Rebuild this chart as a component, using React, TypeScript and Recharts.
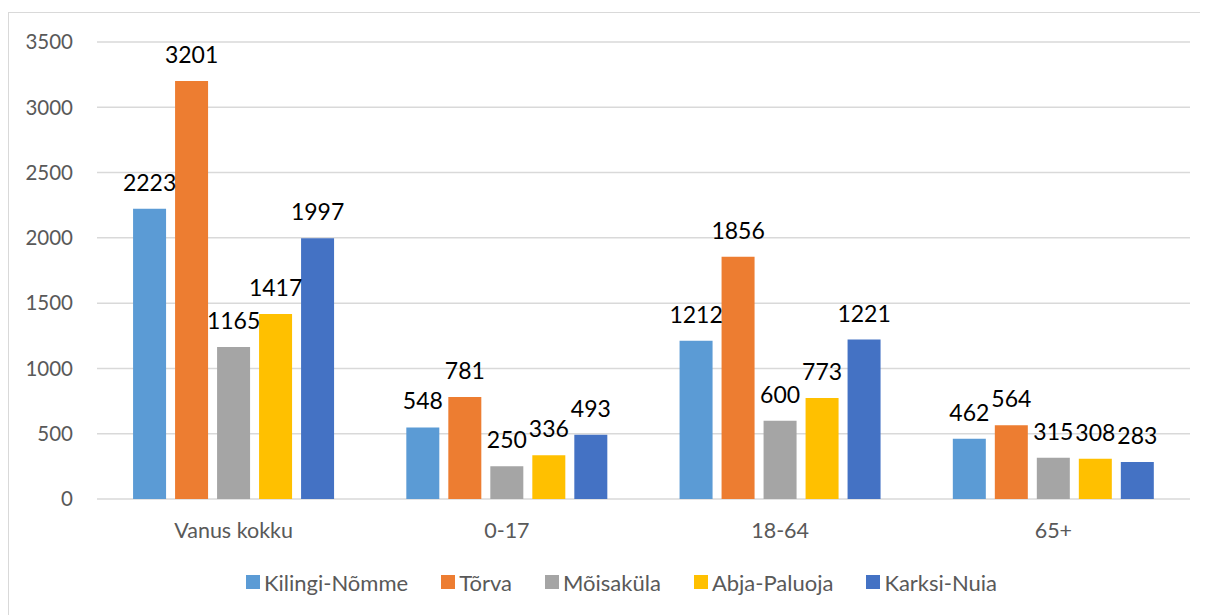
import React from 'react';
import { BarChart, Bar, XAxis, YAxis, CartesianGrid, Legend, LabelList } from 'recharts';

const categories = ['Vanus kokku', '0-17', '18-64', '65+'];
const kilingiNomme = [2223, 548, 1212, 462];
const torva = [3201, 781, 1856, 564];
const moisakula = [1165, 250, 600, 315];
const abjaPaluoja = [1417, 336, 773, 308];
const karksiNuia = [1997, 493, 1221, 283];
const yTicks = [0, 500, 1000, 1500, 2000, 2500, 3000, 3500];

const series = [
  { key: 'Kilingi-Nõmme', values: kilingiNomme, color: '#5B9BD5' },
  { key: 'Tõrva', values: torva, color: '#ED7D31' },
  { key: 'Mõisaküla', values: moisakula, color: '#A5A5A5' },
  { key: 'Abja-Paluoja', values: abjaPaluoja, color: '#FFC000' },
  { key: 'Karksi-Nuia', values: karksiNuia, color: '#4472C4' },
];

const data = categories.map((c, i) => {
  const row: Record<string, string | number> = { name: c };
  series.forEach((s) => {
    row[s.key] = s.values[i];
  });
  return row;
});

const FONT = 'Lato, "Open Sans", sans-serif';

const renderLegend = () => (
  <div style={{ display: 'flex', justifyContent: 'center', alignItems: 'center', height: 40, paddingLeft: 44 }}>
    {series.map((s, i) => (
      <div key={s.key} style={{ display: 'flex', alignItems: 'center', marginRight: i < series.length - 1 ? 33 : 0 }}>
        <span style={{ display: 'inline-block', width: 14, height: 14, background: s.color, marginRight: 4 }} />
        <span style={{ fontFamily: FONT, fontSize: 22, color: '#595959' }}>{s.key}</span>
      </div>
    ))}
  </div>
);

export default function App() {
  return (
    <div
      style={{
        position: 'relative',
        marginTop: 4,
        width: 1199,
        height: 602,
        borderTop: '1px solid #d9d9d9',
        borderLeft: '1px solid #d9d9d9',
        background: '#fff',
      }}
    >
      <BarChart
        width={1199}
        height={602}
        data={data}
        margin={{ top: 29, right: 18, bottom: 13, left: 0 }}
        barCategoryGap="13.2%"
        barGap={9}
      >
        <CartesianGrid vertical={false} stroke="#d9d9d9" strokeWidth={1.5} />
        <XAxis
          dataKey="name"
          axisLine={false}
          tickLine={false}
          tickSize={6}
          tickMargin={18}
          height={63}
          tick={{ fill: '#595959', fontSize: 21.5, fontFamily: FONT }}
        />
        <YAxis
          domain={[0, 3500]}
          ticks={yTicks}
          axisLine={false}
          tickLine={false}
          tickSize={6}
          tickMargin={18}
          width={88}
          tick={{ fill: '#595959', fontSize: 20.5, fontFamily: FONT }}
        />
        <Legend verticalAlign="bottom" height={40} content={renderLegend} />
        {series.map((s) => (
          <Bar key={s.key} dataKey={s.key} fill={s.color} isAnimationActive={false}>
            <LabelList
              dataKey={s.key}
              position="top"
              offset={18}
              style={{ fill: '#000', fontSize: 23, fontFamily: FONT }}
            />
          </Bar>
        ))}
      </BarChart>
    </div>
  );
}
